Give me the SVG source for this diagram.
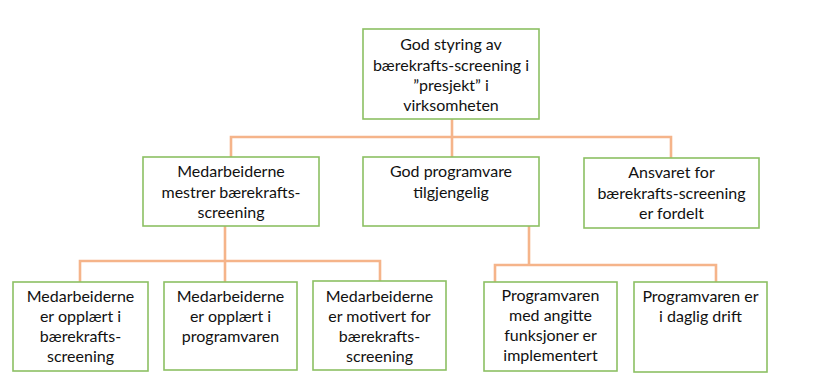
<svg xmlns="http://www.w3.org/2000/svg" width="819" height="383" viewBox="0 0 819 383">
  <style>
    .box { fill: #ffffff; stroke: #8cc063; stroke-width: 1.6; }
    .lbl { font-family: Lato, "Liberation Sans", sans-serif; font-size: 16px; fill: #111111; text-anchor: middle; }
    .wire { fill: none; stroke: #f5b48a; stroke-width: 2.6; }
  </style>
  <rect width="819" height="383" fill="#ffffff"/>

  <!-- connectors -->
  <g id="connectors">
    <path class="wire" d="M452 119 V157"/>
    <path class="wire" d="M231 157 V137 H671 V158"/>
    <path class="wire" d="M225 226 V282"/>
    <path class="wire" d="M80 282 V261 H380 V281"/>
    <path class="wire" d="M529 226 V265"/>
    <path class="wire" d="M495 282 V265 H716 V282"/>
  </g>

  <!-- level 0 -->
  <g id="root">
    <rect class="box" x="363" y="29" width="176" height="90"/>
    <text class="lbl" x="451" y="50">God styring av</text>
    <text class="lbl" x="451" y="70.5">bærekrafts-screening i</text>
    <text class="lbl" x="451" y="91">”presjekt” i</text>
    <text class="lbl" x="451" y="111">virksomheten</text>
  </g>

  <!-- level 1 -->
  <g id="mestrer">
    <rect class="box" x="143" y="157" width="176" height="69"/>
    <text class="lbl" x="231" y="177">Medarbeiderne</text>
    <text class="lbl" x="231" y="197.5">mestrer bærekrafts-</text>
    <text class="lbl" x="231" y="218">screening</text>
  </g>
  <g id="programvare">
    <rect class="box" x="363" y="157" width="176" height="69"/>
    <text class="lbl" x="451" y="177">God programvare</text>
    <text class="lbl" x="451" y="197.5">tilgjengelig</text>
  </g>
  <g id="ansvar">
    <rect class="box" x="584" y="158" width="175" height="70"/>
    <text class="lbl" x="671.5" y="178">Ansvaret for</text>
    <text class="lbl" x="671.5" y="198.5">bærekrafts-screening</text>
    <text class="lbl" x="671.5" y="219">er fordelt</text>
  </g>

  <!-- level 2 -->
  <g id="opplaert-screening">
    <rect class="box" x="13" y="282" width="135" height="89"/>
    <text class="lbl" x="80.5" y="302">Medarbeiderne</text>
    <text class="lbl" x="80.5" y="322">er opplært i</text>
    <text class="lbl" x="80.5" y="342">bærekrafts-</text>
    <text class="lbl" x="80.5" y="362">screening</text>
  </g>
  <g id="opplaert-programvare">
    <rect class="box" x="164" y="282" width="133" height="88"/>
    <text class="lbl" x="230.5" y="302">Medarbeiderne</text>
    <text class="lbl" x="230.5" y="322">er opplært i</text>
    <text class="lbl" x="230.5" y="342">programvaren</text>
  </g>
  <g id="motivert">
    <rect class="box" x="313" y="281" width="133" height="89"/>
    <text class="lbl" x="379.5" y="302">Medarbeiderne</text>
    <text class="lbl" x="379.5" y="322">er motivert for</text>
    <text class="lbl" x="379.5" y="342">bærekrafts-</text>
    <text class="lbl" x="379.5" y="362">screening</text>
  </g>
  <g id="funksjoner">
    <rect class="box" x="484" y="282" width="133" height="89"/>
    <text class="lbl" x="550.5" y="301">Programvaren</text>
    <text class="lbl" x="550.5" y="321">med angitte</text>
    <text class="lbl" x="550.5" y="341">funksjoner er</text>
    <text class="lbl" x="550.5" y="361">implementert</text>
  </g>
  <g id="drift">
    <rect class="box" x="634" y="282" width="133" height="90"/>
    <text class="lbl" x="700.5" y="302">Programvaren er</text>
    <text class="lbl" x="700.5" y="322">i daglig drift</text>
  </g>
</svg>
